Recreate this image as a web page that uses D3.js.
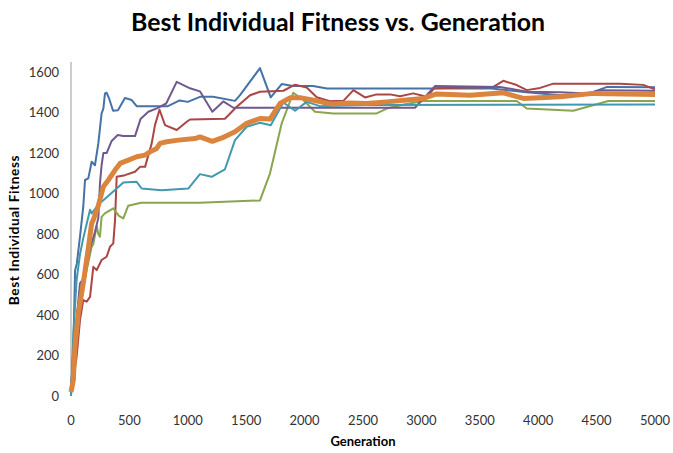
<!DOCTYPE html>
<html>
<head>
<meta charset="utf-8">
<script src="https://cdn.jsdelivr.net/npm/d3@7"></script>
<style>
  body { margin: 0; background: #fff; }
  svg { display: block; }
</style>
</head>
<body>
<div id="chart"></div>
<script>
var width = 673,
	height = 453;

// generation ticks on the x axis
var xTicks = [0, 500, 1000, 1500, 2000, 2500, 3000, 3500, 4000, 4500, 5000];
var yTicks = [0, 200, 400, 600, 800, 1000, 1200, 1400, 1600];

// each run: the generations where the value was read, and the best fitness there
var run1Gen = [0, 20, 35, 50, 77, 105, 120, 148, 177, 205, 234, 262, 277, 291, 305, 325, 360, 402, 462, 520, 562, 830, 930, 1000, 1104, 1216, 1404, 1447, 1618, 1710, 1804, 1900, 2072, 2192, 3600, 3900, 4190, 4330, 4440, 4590, 5000];
var run1Fit = [0, 243, 620, 655, 787, 935, 1067, 1075, 1157, 1140, 1248, 1396, 1420, 1495, 1498, 1472, 1409, 1412, 1472, 1462, 1432, 1432, 1460, 1453, 1478, 1478, 1458, 1486, 1620, 1475, 1541, 1531, 1531, 1519, 1519, 1500, 1486, 1490, 1495, 1527, 1525];

var run2Gen = [0, 20, 48, 77, 105, 134, 163, 191, 220, 262, 305, 334, 362, 377, 391, 462, 548, 591, 634, 691, 719, 758, 805, 905, 991, 1019, 1318, 1419, 1533, 1618, 1818, 1918, 2018, 2104, 2217, 2332, 2418, 2517, 2617, 2731, 2817, 2931, 3045, 3110, 3616, 3701, 3816, 3902, 4016, 4130, 4700, 4900, 5000];
var run2Fit = [80, 87, 194, 375, 474, 466, 490, 638, 622, 672, 688, 737, 754, 869, 1083, 1091, 1108, 1132, 1132, 1248, 1338, 1414, 1338, 1314, 1355, 1366, 1370, 1429, 1486, 1503, 1508, 1538, 1524, 1476, 1456, 1458, 1511, 1475, 1490, 1490, 1481, 1495, 1478, 1520, 1527, 1557, 1536, 1511, 1522, 1543, 1543, 1537, 1515];

var run3Gen = [0, 40, 77, 105, 140, 177, 191, 220, 234, 248, 262, 290, 362, 410, 448, 490, 600, 1100, 1618, 1704, 1804, 1903, 1989, 2089, 2246, 2617, 2703, 2850, 3016, 3816, 3902, 4300, 4600, 5000];
var run3Fit = [20, 330, 523, 540, 640, 737, 750, 840, 800, 787, 885, 902, 927, 890, 877, 940, 955, 955, 966, 1100, 1347, 1498, 1462, 1404, 1396, 1396, 1420, 1440, 1457, 1457, 1420, 1409, 1457, 1457];

var run4Gen = [0, 20, 48, 77, 105, 134, 163, 177, 220, 262, 362, 420, 448, 562, 605, 776, 1004, 1104, 1204, 1318, 1404, 1504, 1618, 1710, 1818, 1918, 2018, 2132, 2500, 5000];
var run4Fit = [0, 300, 573, 700, 780, 850, 920, 902, 935, 960, 1010, 1040, 1055, 1058, 1025, 1017, 1025, 1096, 1083, 1120, 1264, 1330, 1350, 1338, 1450, 1409, 1453, 1432, 1437, 1440];

var run5Gen = [0, 40, 77, 120, 163, 205, 234, 248, 262, 277, 305, 348, 400, 448, 548, 595, 662, 740, 815, 905, 1019, 1104, 1210, 1304, 1390, 2945, 3116, 3673, 3902, 4187, 4415, 4529, 5000];
var run5Fit = [40, 330, 556, 590, 730, 810, 880, 1050, 1140, 1200, 1200, 1260, 1289, 1284, 1284, 1368, 1404, 1422, 1445, 1552, 1520, 1505, 1404, 1455, 1424, 1424, 1531, 1527, 1503, 1500, 1495, 1511, 1508];

var avgGen = [0, 20, 34, 63, 105, 148, 177, 191, 234, 277, 320, 377, 420, 491, 562, 634, 676, 734, 762, 819, 919, 1062, 1104, 1210, 1310, 1404, 1504, 1618, 1704, 1789, 1875, 1961, 2089, 2230, 2389, 2532, 2703, 2874, 3016, 3130, 3416, 3701, 3873, 4187, 4472, 5000];
var avgFit = [20, 79, 243, 408, 556, 730, 853, 870, 940, 1034, 1067, 1116, 1149, 1165, 1182, 1190, 1206, 1223, 1248, 1256, 1264, 1272, 1280, 1258, 1279, 1305, 1347, 1371, 1368, 1445, 1473, 1474, 1460, 1442, 1448, 1445, 1453, 1462, 1470, 1492, 1486, 1498, 1470, 1478, 1495, 1490];

var series = [
	{name: "Run 1", gen: run1Gen, fit: run1Fit, color: "#4572a7", w: 2},
	{name: "Run 2", gen: run2Gen, fit: run2Fit, color: "#aa4643", w: 2},
	{name: "Run 3", gen: run3Gen, fit: run3Fit, color: "#89a54e", w: 2},
	{name: "Run 5", gen: run5Gen, fit: run5Fit, color: "#71588f", w: 2},
	{name: "Run 4", gen: run4Gen, fit: run4Fit, color: "#4198af", w: 2},
	{name: "Average", gen: avgGen, fit: avgFit, color: "#db843d", w: 5}
];

var svg = d3.select("#chart").append("svg")
	.attr("width", width)
	.attr("height", height);

var x = d3.scaleLinear().domain([0, 5000]).range([71, 655]);
var y = d3.scaleLinear().domain([0, 1650]).range([396, 62]);

var font = "Lato, 'Open Sans', sans-serif";

// grow or shrink a label's font until it is as long as in the picture
function fitLength(sel, target) {
	var size = parseFloat(sel.style("font-size"));
	var len = sel.node().getComputedTextLength();
	if (len > 0) sel.style("font-size", (size * target / len).toFixed(2) + "px");
}

// title
var title = svg.append("text")
	.attr("x", 338)
	.attr("y", 31)
	.attr("text-anchor", "middle")
	.style("font-family", font)
	.style("font-weight", "bold")
	.style("font-size", "23px")
	.style("fill", "#000")
	.text("Best Individual Fitness vs. Generation");
fitLength(title, 414);

// y axis line
svg.append("line")
	.attr("x1", x(0)).attr("x2", x(0))
	.attr("y1", y(1650)).attr("y2", y(0))
	.attr("stroke", "#999")
	.attr("stroke-width", 1);

// y tick labels
svg.selectAll(".ytick")
	.data(yTicks)
	.enter()
	.append("text")
	.attr("class", "ytick")
	.attr("x", 59)
	.attr("y", function(d){ return y(d); })
	.attr("dy", "0.35em")
	.attr("text-anchor", "end")
	.style("font-family", font)
	.style("font-size", "13px")
	.style("fill", "#333")
	.text(function(d){ return d; });

// x tick labels
svg.selectAll(".xtick")
	.data(xTicks)
	.enter()
	.append("text")
	.attr("class", "xtick")
	.attr("x", function(d){ return x(d); })
	.attr("y", 420)
	.attr("dy", "0.35em")
	.attr("text-anchor", "middle")
	.style("font-family", font)
	.style("font-size", "13px")
	.style("fill", "#333")
	.text(function(d){ return d; });

// axis titles
svg.append("text")
	.attr("x", 363)
	.attr("y", 446)
	.attr("text-anchor", "middle")
	.style("font-family", font)
	.style("font-weight", "bold")
	.style("font-size", "13px")
	.text("Generation");

var yTitle = svg.append("text")
	.attr("transform", "translate(19,230) rotate(-90)")
	.attr("text-anchor", "middle")
	.style("font-family", font)
	.style("font-weight", "bold")
	.style("font-size", "14px")
	.style("letter-spacing", "0.6px")
	.text("Best Individual Fitness");
fitLength(yTitle, 150);

// lines
var line = d3.line()
	.x(function(d){ return x(d[0]); })
	.y(function(d){ return y(d[1]); });

svg.append("g")
	.selectAll("path")
	.data(series)
	.enter()
	.append("path")
	.attr("fill", "none")
	.attr("stroke", function(d){ return d.color; })
	.attr("stroke-width", function(d){ return d.w; })
	.attr("stroke-linejoin", "round")
	.attr("d", function(d){
		return line(d.gen.map(function(g, i){ return [g, d.fit[i]]; }));
	});
</script>
</body>
</html>
